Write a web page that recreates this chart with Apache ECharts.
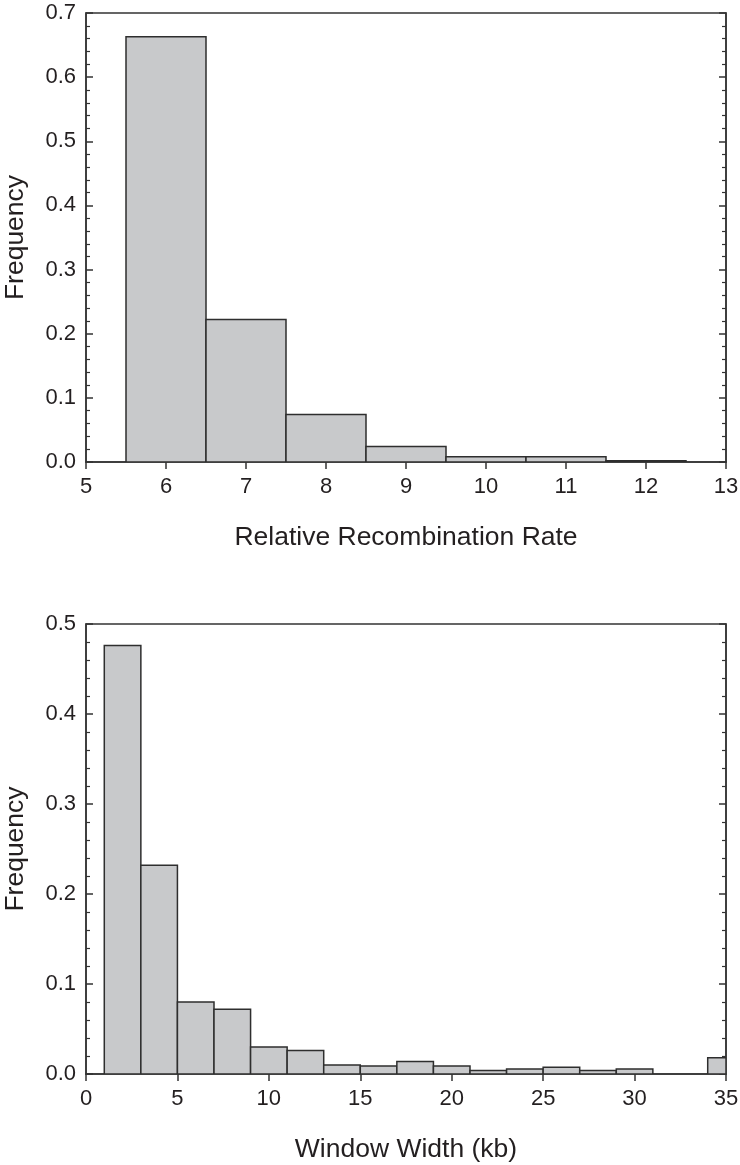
<!DOCTYPE html>
<html><head><meta charset="utf-8">
<script src="https://cdn.jsdelivr.net/npm/echarts@6/dist/echarts.min.js"></script>
<style>html,body{margin:0;padding:0;background:#fff}#c{width:740px;height:1165px}</style>
</head><body><div id="c"></div>
<script>
// Top histogram: relative recombination rate
const rateBinStart = [5.5, 6.5, 7.5, 8.5, 9.5, 10.5, 11.5];
const rateBinEnd   = [6.5, 7.5, 8.5, 9.5, 10.5, 11.5, 12.5];
const rateFreq     = [0.663, 0.222, 0.074, 0.024, 0.008, 0.008, 0.002];
// Bottom histogram: window width (kb)
const widthBinStart = [1, 3, 5, 7, 9, 11, 13, 15, 17, 19, 21, 23, 25, 27, 29, 34];
const widthBinEnd   = [3, 5, 7, 9, 11, 13, 15, 17, 19, 21, 23, 25, 27, 29, 31, 35];
const widthFreq     = [0.476, 0.232, 0.080, 0.072, 0.030, 0.026, 0.010, 0.009, 0.014, 0.009, 0.004, 0.0055, 0.0074, 0.004, 0.0055, 0.018];

const FONT = '"Liberation Sans", Arial, sans-serif';
const TXT = '#231f20';
const LINE = '#333333';

function histData(s, e, f){ return s.map((v,i)=>[v, e[i], f[i]]); }

function renderBar(params, api){
  const p0 = api.coord([api.value(0), api.value(2)]);
  const p1 = api.coord([api.value(1), 0]);
  return {
    type:'rect',
    shape:{x:p0[0], y:p0[1], width:p1[0]-p0[0], height:p1[1]-p0[1]},
    style:{fill:'#c8c9cb', stroke:'#2e2e2e', lineWidth:1.5}
  };
}

function xAxis(grid, min, max, interval, name){
  return {
    type:'value', gridIndex:grid, min:min, max:max, interval:interval,
    name:name, nameLocation:'middle', nameGap:62,
    nameTextStyle:{fontFamily:FONT, fontSize:26.5, color:TXT},
    axisLine:{show:true, lineStyle:{color:LINE, width:1.5}},
    axisTick:{show:true, inside:false, length:7, lineStyle:{color:LINE, width:1.5}},
    axisLabel:{fontFamily:FONT, fontSize:22, color:TXT, margin:14},
    splitLine:{show:false}
  };
}
function yAxis(grid, max, right){
  return {
    type:'value', gridIndex:grid, min:0, max:max, interval:0.1,
    position: right ? 'right' : 'left',
    name: right ? '' : 'Frequency', nameLocation:'middle', nameGap:57,
    nameTextStyle:{fontFamily:FONT, fontSize:26.5, color:TXT},
    axisLine:{show:true, lineStyle:{color:LINE, width:1.5}},
    axisTick:{show:true, inside:true, length:7, lineStyle:{color:LINE, width:1.5}},
    minorTick:{show:true, splitNumber:5, length:4, lineStyle:{color:LINE, width:1.2}},
    axisLabel:{show:!right, fontFamily:FONT, fontSize:22, color:TXT, margin:10,
      formatter:v=>v.toFixed(1)},
    splitLine:{show:false}, minorSplitLine:{show:false}
  };
}

const chart = echarts.init(document.getElementById('c'), null, {renderer:'canvas'});
chart.setOption({
  animation:false,
  backgroundColor:'#fff',
  grid:[
    {left:86, top:13, width:640, height:449, containLabel:false, outerBoundsMode:'none',
     show:true, borderColor:LINE, borderWidth:1.5, backgroundColor:'transparent'},
    {left:86, top:624, width:640, height:450, containLabel:false, outerBoundsMode:'none',
     show:true, borderColor:LINE, borderWidth:1.5, backgroundColor:'transparent'}
  ],
  xAxis:[
    xAxis(0, 5, 13, 1, 'Relative Recombination Rate'),
    xAxis(1, 0, 35, 5, 'Window Width (kb)')
  ],
  yAxis:[
    yAxis(0, 0.7, false), yAxis(0, 0.7, true),
    yAxis(1, 0.5, false), yAxis(1, 0.5, true)
  ],
  series:[
    {type:'custom', xAxisIndex:0, yAxisIndex:0, renderItem:renderBar,
     encode:{x:[0,1], y:2}, data:histData(rateBinStart, rateBinEnd, rateFreq), clip:true},
    {type:'custom', xAxisIndex:1, yAxisIndex:2, renderItem:renderBar,
     encode:{x:[0,1], y:2}, data:histData(widthBinStart, widthBinEnd, widthFreq), clip:true}
  ]
});
</script></body></html>
